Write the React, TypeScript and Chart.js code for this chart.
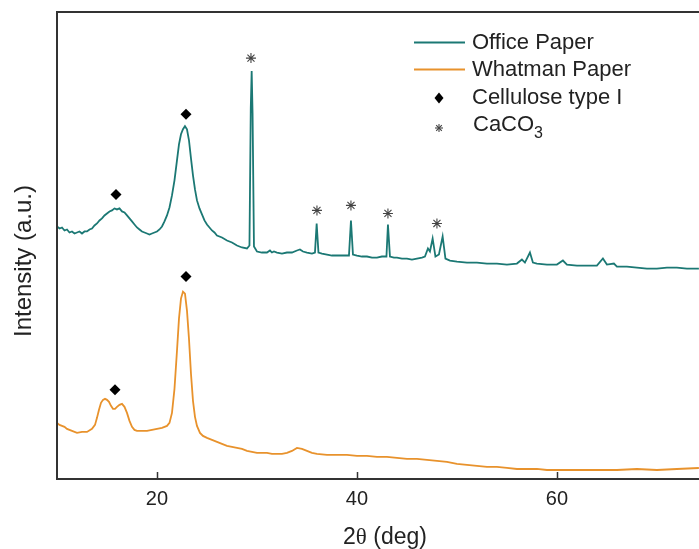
import React, { useEffect, useRef } from "react";
import { Chart, registerables } from "chart.js";

Chart.register(...registerables);

// 2θ (deg) and intensity (a.u.)
const officeTheta = [
  10, 10.25, 10.5, 10.75, 11, 11.25, 11.5, 11.75, 12, 12.25, 12.5, 12.75, 13, 13.25, 13.5, 13.75, 14, 14.25,
  14.5, 14.75, 15, 15.25, 15.5, 15.75, 16, 16.25, 16.5, 16.75, 17, 17.25, 17.5, 17.75, 18, 18.25, 18.5, 18.75,
  19, 19.25, 19.5, 19.75, 20, 20.25, 20.5, 20.75, 21, 21.25, 21.5, 21.75, 22, 22.2, 22.4, 22.6, 22.8, 23.0,
  23.2, 23.4, 23.6, 23.8, 24, 24.25, 24.5, 24.75, 25, 25.25, 25.5, 25.75, 26, 26.5, 27, 27.5, 28, 28.5, 29,
  29.25, 29.38, 29.47, 29.56, 29.7, 30, 30.5, 31, 31.3, 31.5, 31.7, 32, 32.5, 33, 33.5, 34, 34.3, 34.6, 35,
  35.5, 35.8, 35.97, 36.15, 36.5, 37, 37.5, 38, 38.5, 39.2, 39.4, 39.6, 40, 40.5, 41, 41.5, 42, 42.5, 42.95,
  43.1, 43.3, 43.7, 44, 44.5, 45, 45.5, 46, 46.5, 46.8, 47.1, 47.3, 47.57, 47.85, 48.2, 48.57, 48.85, 49.3,
  50, 51, 52, 53, 54, 55, 56, 56.5, 56.8, 57.3, 57.6, 58, 59, 60, 60.6, 61, 62, 63, 64, 64.6, 65, 65.7, 66,
  67, 68, 69, 70, 71, 72, 73, 74.2,
];
const officeIntensity = [
  252, 250, 251, 248, 249, 246, 247, 245, 246, 247, 245, 247, 247, 249, 250, 253, 255, 258,
  260, 263, 265, 267, 268, 270, 269, 270, 267, 266, 263, 260, 257, 254, 251, 249, 247, 246,
  245, 244, 245, 246, 247, 249, 252, 257, 263, 271, 283, 298, 318, 334, 344, 349, 352, 349,
  338, 320, 303, 289, 278, 270, 264, 258, 254, 251, 248, 246, 243, 241, 238, 236, 233, 231, 230,
  233, 370, 407, 365, 232, 227, 226, 226, 228, 226, 227, 226, 225, 226, 226, 228, 229, 227, 226,
  225, 226, 255, 226, 225, 224, 223, 223, 223, 223, 258, 224, 223, 222, 222, 221, 221, 222, 222,
  254, 222, 221, 221, 220, 220, 219, 220, 221, 222, 230, 227, 240, 222, 224, 242, 220, 218,
  217, 216, 216, 215, 215, 214, 215, 219, 216, 226, 216, 215, 214, 214, 218, 214, 213, 213, 213, 220, 214, 215, 212,
  212, 211, 210, 210, 211, 211, 210, 210,
];

const whatmanTheta = [
  10, 10.25, 10.5, 10.75, 11, 11.5, 12, 12.5, 13, 13.5, 13.8, 14, 14.2, 14.4, 14.6, 14.8, 15, 15.2, 15.4,
  15.6, 15.8, 16, 16.25, 16.5, 16.75, 17, 17.25, 17.5, 17.75, 18, 18.5, 19, 19.5, 20, 20.5, 21, 21.25, 21.5,
  21.75, 22, 22.2, 22.4, 22.6, 22.8, 23.0, 23.2, 23.4, 23.6, 23.8, 24.0, 24.3, 24.6, 25, 25.5, 26, 26.5, 27,
  27.5, 28, 28.5, 29, 29.5, 30, 30.5, 31, 31.5, 32, 32.5, 33, 33.5, 34, 34.5, 35, 35.5, 36, 37, 38, 39, 40,
  41, 42, 43, 44, 45, 46, 47, 48, 49, 50, 51, 52, 53, 54, 55, 56, 57, 58, 59, 60, 62, 64, 66, 68, 70, 72, 74.2,
];
const whatmanIntensity = [
  56, 54, 53, 52, 50, 48, 46, 47, 47, 50, 54, 61, 69, 76, 79, 80, 79, 77, 73,
  70, 70, 72, 74, 75, 72, 66, 58, 52, 49, 48, 48, 48, 49, 50, 51, 53, 56, 66,
  90, 128, 160, 180, 187, 185, 168, 140, 105, 78, 62, 53, 46, 43, 41, 39, 37, 35, 33,
  32, 31, 30, 28, 27, 26, 26, 26, 25, 25, 25, 26, 28, 31, 30, 28, 26, 25, 24, 24, 24, 23,
  23, 22, 22, 21, 20, 20, 19, 18, 17, 15, 14, 13, 12, 12, 11, 10, 10, 10, 9, 9, 9, 9, 9, 10, 9, 10, 11,
];

// peak markers
const celluloseTheta = [15.9, 22.9, 15.8, 22.9];
const celluloseIntensity = [284, 364, 89, 202];
const caco3Theta = [29.4, 36.0, 39.4, 43.1, 48.0];
const caco3Intensity = [420, 268, 273, 265, 255];

const xTicks = [20, 40, 60];
const seriesNames = ["Office Paper", "Whatman Paper", "Cellulose type I", "CaCO"];

const TEAL = "#1b7874";
const ORANGE = "#e8922c";
const AXIS = "#333333";
const FONT = "'Liberation Sans', Arial, sans-serif";

const zip = (xs: number[], ys: number[]) => xs.map((x, i) => ({ x, y: ys[i] }));

const overlay = {
  id: "overlay",
  afterDraw(chart: any) {
    const { ctx, chartArea } = chart;
    const xs = chart.scales.x;
    ctx.save();
    // frame: left and top
    ctx.strokeStyle = AXIS;
    ctx.lineWidth = 2;
    ctx.beginPath();
    ctx.moveTo(chartArea.left, chartArea.bottom);
    ctx.lineTo(chartArea.left, chartArea.top);
    ctx.lineTo(chart.width, chartArea.top);
    ctx.stroke();
    // inward ticks
    ctx.lineWidth = 1.5;
    for (const v of xTicks) {
      const px = Math.round(xs.getPixelForValue(v)) + 0.5;
      ctx.beginPath();
      ctx.moveTo(px, chartArea.bottom);
      ctx.lineTo(px, chartArea.bottom - 7);
      ctx.stroke();
    }
    ctx.fillStyle = "#222";
    // x title: 2θ (deg)
    ctx.textBaseline = "alphabetic";
    ctx.textAlign = "left";
    const partA = "2";
    const partB = "\u03b8";
    const partC = " (deg)";
    ctx.font = `23px ${FONT}`;
    const wA = ctx.measureText(partA).width;
    const wC = ctx.measureText(partC).width;
    ctx.font = `23px 'Liberation Serif', 'DejaVu Serif', serif`;
    const wB = ctx.measureText(partB).width;
    let tx = 385 - (wA + wB + wC) / 2;
    const ty = 544;
    ctx.font = `23px ${FONT}`;
    ctx.fillText(partA, tx, ty);
    tx += wA;
    ctx.font = `23px 'Liberation Serif', 'DejaVu Serif', serif`;
    ctx.fillText(partB, tx, ty);
    tx += wB;
    ctx.font = `23px ${FONT}`;
    ctx.fillText(partC, tx, ty);
    // y title
    ctx.save();
    ctx.translate(24, 261);
    ctx.rotate(-Math.PI / 2);
    ctx.textAlign = "center";
    ctx.textBaseline = "middle";
    ctx.font = `24px ${FONT}`;
    ctx.fillText("Intensity (a.u.)", 0, 0);
    ctx.restore();

    // legend
    const lx0 = 414, lx1 = 465, textX = 472;
    const rows = [42.5, 69.5, 98, 125];
    ctx.lineWidth = 2;
    ctx.strokeStyle = TEAL;
    ctx.beginPath();
    ctx.moveTo(lx0, rows[0]);
    ctx.lineTo(lx1, rows[0]);
    ctx.stroke();
    ctx.strokeStyle = ORANGE;
    ctx.beginPath();
    ctx.moveTo(lx0, rows[1]);
    ctx.lineTo(lx1, rows[1]);
    ctx.stroke();
    // diamond
    ctx.fillStyle = "#000";
    ctx.beginPath();
    ctx.moveTo(439, rows[2] - 5.5);
    ctx.lineTo(443.5, rows[2]);
    ctx.lineTo(439, rows[2] + 5.5);
    ctx.lineTo(434.5, rows[2]);
    ctx.closePath();
    ctx.fill();
    // asterisk
    ctx.strokeStyle = "#444";
    ctx.lineWidth = 1.1;
    const ax = 439, ay = rows[3] + 3, r = 4;
    for (let k = 0; k < 4; k++) {
      const a = (k * Math.PI) / 4;
      ctx.beginPath();
      ctx.moveTo(ax - r * Math.cos(a), ay - r * Math.sin(a));
      ctx.lineTo(ax + r * Math.cos(a), ay + r * Math.sin(a));
      ctx.stroke();
    }
    ctx.fillStyle = "#222";
    ctx.textAlign = "left";
    ctx.textBaseline = "middle";
    ctx.font = `22px ${FONT}`;
    ctx.fillText(seriesNames[0], textX, rows[0]);
    ctx.fillText(seriesNames[1], textX, rows[1]);
    ctx.fillText(seriesNames[2], textX, rows[2]);
    ctx.fillText(seriesNames[3], textX + 1, rows[3]);
    const wCa = ctx.measureText(seriesNames[3]).width;
    ctx.font = `16px ${FONT}`;
    ctx.fillText("3", textX + 1 + wCa, rows[3] + 9);
    ctx.restore();
  },
};

export default function App() {
  const ref = useRef<HTMLCanvasElement | null>(null);
  useEffect(() => {
    if (!ref.current) return;
    const chart = new Chart(ref.current, {
      type: "line",
      data: {
        datasets: [
          {
            type: "scatter",
            label: "Cellulose type I",
            data: zip(celluloseTheta, celluloseIntensity),
            pointStyle: "rectRot",
            pointRadius: 5.5,
            backgroundColor: "#000",
            borderColor: "#000",
            borderWidth: 0,
          },
          {
            type: "scatter",
            label: "CaCO3",
            data: zip(caco3Theta, caco3Intensity),
            pointStyle: "star",
            pointRadius: 5,
            backgroundColor: "#444",
            borderColor: "#444",
            borderWidth: 1.1,
          },
          {
            label: "Office Paper",
            data: zip(officeTheta, officeIntensity),
            borderColor: TEAL,
            borderWidth: 1.8,
            pointRadius: 0,
            tension: 0,
            fill: false,
          },
          {
            label: "Whatman Paper",
            data: zip(whatmanTheta, whatmanIntensity),
            borderColor: ORANGE,
            borderWidth: 1.8,
            pointRadius: 0,
            tension: 0,
            fill: false,
          },
        ],
      },
      options: {
        responsive: false,
        animation: false,
        layout: { padding: { left: 57, top: 12, right: 0, bottom: 30 } },
        plugins: { legend: { display: false }, tooltip: { enabled: false } },
        scales: {
          x: {
            type: "linear",
            min: 10,
            max: 74.2,
            afterBuildTicks: (s: any) => {
              s.ticks = xTicks.map((v) => ({ value: v }));
            },
            grid: { display: false, drawTicks: false },
            border: { display: true, color: AXIS, width: 2 },
            ticks: {
              padding: 8,
              color: "#222",
              font: { family: FONT, size: 20 },
              autoSkip: false,
              maxRotation: 0,
            },
          },
          y: {
            display: false,
            min: 0,
            max: 466,
          },
        },
      },
      plugins: [overlay],
    });
    return () => chart.destroy();
  }, []);
  return (
    <div
      style={{
        position: "fixed",
        left: 0,
        top: 0,
        width: 699,
        height: 549,
        overflow: "hidden",
        background: "#fff",
      }}
    >
      <canvas ref={ref} width={705} height={549} style={{ display: "block" }} />
    </div>
  );
}
